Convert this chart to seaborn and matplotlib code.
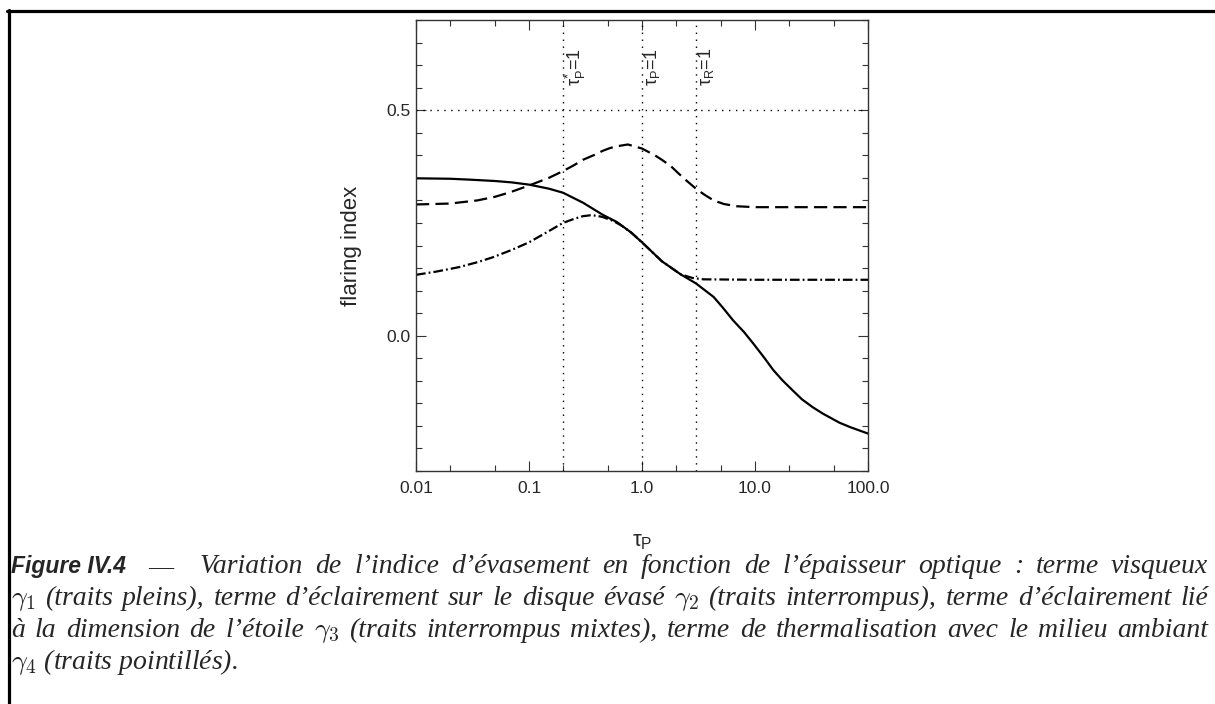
import matplotlib
matplotlib.use("Agg")
import matplotlib.pyplot as plt
import matplotlib.ticker as mticker
from matplotlib.lines import Line2D
import seaborn as sns

# values
tau_g1 = [0.01, 0.02, 0.03, 0.05, 0.07, 0.1, 0.15, 0.2, 0.3, 0.45, 0.6, 0.8,
          1.0, 1.5, 2.2, 3.0, 4.3, 5.2, 6.4, 8.0, 9.7, 12.0, 14.5, 17.5, 21.7,
          26.0, 32.6, 40.0, 56.0, 70.0, 100.0]
gamma1 = [0.349, 0.348, 0.346, 0.343, 0.340, 0.335, 0.326, 0.317, 0.295, 0.268,
          0.252, 0.229, 0.207, 0.165, 0.136, 0.116, 0.086, 0.062, 0.034, 0.008,
          -0.018, -0.048, -0.076, -0.099, -0.122, -0.141, -0.159, -0.173,
          -0.193, -0.203, -0.217]

tau_g2 = [0.01, 0.02, 0.035, 0.05, 0.068, 0.1, 0.15, 0.2, 0.25, 0.3, 0.38,
          0.45, 0.52, 0.6, 0.75, 1.0, 1.3, 1.5, 1.8, 2.1, 2.5, 3.0, 3.6, 4.3,
          5.3, 6.9, 10.0, 100.0]
gamma2 = [0.291, 0.293, 0.300, 0.308, 0.318, 0.333, 0.350, 0.365, 0.378, 0.390,
          0.401, 0.410, 0.416, 0.420, 0.424, 0.415, 0.400, 0.390, 0.376, 0.360,
          0.343, 0.326, 0.312, 0.300, 0.292, 0.287, 0.285, 0.285]

tau_g3 = [0.01, 0.015, 0.024, 0.035, 0.048, 0.07, 0.1, 0.15, 0.2, 0.25, 0.3,
          0.35, 0.4, 0.45, 0.55, 0.65, 0.8, 1.0, 1.5, 2.2, 2.8, 3.5, 10.0,
          100.0]
gamma3 = [0.135, 0.142, 0.152, 0.163, 0.174, 0.190, 0.207, 0.232, 0.250, 0.259,
          0.265, 0.267, 0.266, 0.263, 0.255, 0.245, 0.229, 0.207, 0.165, 0.136,
          0.128, 0.125, 0.124, 0.124]

tau_g4 = [0.01, 100.0]
gamma4 = [0.5, 0.5]

tau_marks = [0.2, 1.0, 3.0]
mark_labels = [r"τ$_{\rm P}^{*}$=1", r"τ$_{\rm P}$=1", r"τ$_{\rm R}$=1"]

xticks = [0.01, 0.1, 1.0, 10.0, 100.0]
xtick_labels = ["0.01", "0.1", "1.0", "10.0", "100.0"]

caption_head = "Figure IV.4"
caption_lines = [
    "Variation de l’indice d’évasement en fonction de l’épaisseur optique : terme visqueux",
    r"$\gamma_1$ (traits pleins), terme d’éclairement sur le disque évasé $\gamma_2$ (traits interrompus), terme d’éclairement lié",
    r"à la dimension de l’étoile $\gamma_3$ (traits interrompus mixtes), terme de thermalisation avec le milieu ambiant",
    r"$\gamma_4$ (traits pointillés).",
]

sns.set_style("ticks")
plt.rcParams["font.family"] = ["Liberation Sans", "DejaVu Sans"]
plt.rcParams["mathtext.fontset"] = "custom"
plt.rcParams["mathtext.rm"] = "Liberation Sans"
plt.rcParams["mathtext.it"] = "Liberation Sans:italic"
plt.rcParams["mathtext.bf"] = "Liberation Sans:bold"
plt.rcParams["lines.scale_dashes"] = False

W, H = 1215, 704
fig = plt.figure(figsize=(W / 100, H / 100), dpi=100)
ax = fig.add_axes([416 / W, 1 - 471 / H, 452 / W, 451 / H])

ink = "black"
sns.lineplot(x=tau_g1, y=gamma1, ax=ax, color=ink, linewidth=1.6,
             linestyle="-")
sns.lineplot(x=tau_g2, y=gamma2, ax=ax, color=ink, linewidth=1.6,
             linestyle=(0, (9.5, 4.5)))
sns.lineplot(x=tau_g3, y=gamma3, ax=ax, color=ink, linewidth=1.6,
             linestyle=(0, (7, 2.2, 1.3, 2.2)))
sns.lineplot(x=tau_g4, y=gamma4, ax=ax, color=ink, linewidth=1.0,
             linestyle=(0, (1, 4)))

for t, lab in zip(tau_marks, mark_labels):
    ax.axvline(t, color=ink, linewidth=1.0, linestyle=(0, (1, 4)))
    ax.text(t, 0.554, lab, rotation=90, ha="left", va="bottom", fontsize=13)

ax.set_xscale("log")
ax.set_xlim(0.01, 100)
ax.set_ylim(-0.3, 0.7)
ax.xaxis.set_major_locator(mticker.FixedLocator(xticks))
ax.xaxis.set_major_formatter(mticker.FixedFormatter(xtick_labels))
ax.xaxis.set_minor_locator(mticker.LogLocator(subs=(2.0, 5.0)))
ax.xaxis.set_minor_formatter(mticker.NullFormatter())
ax.yaxis.set_major_locator(mticker.MultipleLocator(0.5))
ax.yaxis.set_minor_locator(mticker.MultipleLocator(0.05))
ax.yaxis.set_major_formatter(mticker.FormatStrFormatter("%.1f"))

spine_col = "#333333"
for s in ax.spines.values():
    s.set_visible(True)
    s.set_color(spine_col)
    s.set_linewidth(1.0)
ax.tick_params(which="both", direction="in", top=True, right=True,
               color=spine_col, width=0.8, labelsize=12.5)
ax.tick_params(which="major", length=7)
ax.tick_params(which="minor", length=4.5)
ax.tick_params(axis="x", pad=7)
ax.tick_params(axis="y", pad=4)

ax.set_xlabel(r"τ$_{\rm P}$", fontsize=16, va="center")
ax.xaxis.set_label_coords(0.5, (471 - 541) / 451)
ax.set_ylabel("flaring index", fontsize=16, va="center")
ax.yaxis.set_label_coords((352 - 416) / 452, 0.5)

# page frame
fig.add_artist(Line2D([7 / W, 1.0], [1 - 10.5 / H] * 2, color="black", lw=2.3))
fig.add_artist(Line2D([8.5 / W] * 2, [0, 1 - 9.5 / H], color="black", lw=2.3))

# caption, justified line by line
serif = dict(family=["Liberation Serif", "DejaVu Serif"], style="italic",
             fontsize=20, math_fontfamily="cm", va="baseline")
renderer = fig.canvas.get_renderer()


def justify(line, y, x0, x1):
    words = line.split(" ")
    texts = [fig.text(0, 1 - y / H, w, **serif) for w in words]
    widths = [t.get_window_extent(renderer).width for t in texts]
    gap = (x1 - x0 - sum(widths)) / (len(texts) - 1)
    x = x0
    for t, w in zip(texts, widths):
        t.set_x(x / W)
        x += w + gap


baselines = [573, 605, 637, 669]
fig.text(11 / W, 1 - baselines[0] / H, caption_head, family="Liberation Sans",
         weight="bold", style="italic", fontsize=16.5, va="baseline")
fig.text(148 / W, 1 - baselines[0] / H, "—", family="Liberation Serif",
         fontsize=18, va="baseline")
justify(caption_lines[0], baselines[0], 200, 1208)
justify(caption_lines[1], baselines[1], 11, 1208)
justify(caption_lines[2], baselines[2], 11, 1208)
fig.text(11 / W, 1 - baselines[3] / H, caption_lines[3], **serif)

fig.savefig("out.png", dpi=100)
